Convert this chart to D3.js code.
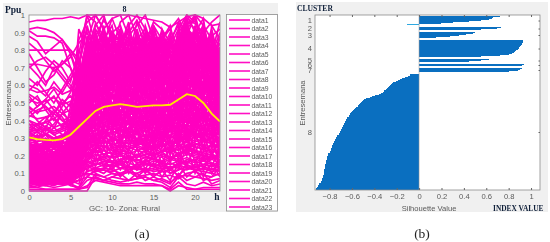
<!DOCTYPE html>
<html>
<head>
<meta charset="utf-8">
<script src="https://cdn.jsdelivr.net/npm/d3@7"></script>
<style>
html, body { margin: 0; padding: 0; background: #fff; }
svg { display: block; filter: blur(0.35px); }
text { font-family: "Liberation Sans", Arial, sans-serif; }
.note { font-family: "Liberation Serif", serif; font-weight: bold; fill: #10203a; }
</style>
</head>
<body>
<div id="chart"></div>
<script>
// panel (a): daily load curves in percent of Ppu, hours 0..23
const hours = d3.range(0, 24);
const loadCurves = [
  [96,97,97,98,98,99,98,100,100,100,100,100,100,99,98,97,96,93,96,99,100,98,94,95],
  [92,93,92,90,86,78,62,70,88,97,90,85,92,80,75,88,83,70,90,97,92,80,88,92],
  [91,88,88,87,84,70,55,85,100,92,98,86,90,97,88,92,80,62,85,98,95,90,96,100],
  [88,85,78,82,86,80,72,92,84,72,90,94,80,86,92,78,88,92,80,90,85,70,75,84],
  [84,80,74,68,72,78,66,76,95,88,74,82,96,70,84,90,72,84,96,86,78,92,80,68],
  [80,80,80,80,80,80,75,60,70,82,90,76,68,88,72,62,78,88,70,80,92,84,66,78],
  [78,70,62,66,74,70,60,82,72,90,78,64,84,74,94,80,66,74,90,82,70,60,74,88],
  [72,72,71,70,72,76,84,90,78,66,86,72,80,62,82,70,92,78,84,94,76,88,70,62],
  [71,66,60,70,64,58,72,64,86,76,60,90,70,82,66,84,74,60,76,70,88,78,92,72],
  [70,74,76,72,66,60,52,78,68,84,72,80,62,92,76,68,86,94,72,88,66,74,60,80],
  [64,60,68,74,70,62,80,70,62,78,88,66,76,70,86,60,72,82,92,76,84,68,80,56],
  [60,58,54,62,56,64,70,94,76,60,70,84,72,60,78,90,64,70,82,96,80,66,84,70],
  [57,62,56,50,58,66,74,60,82,92,66,76,86,68,62,74,84,66,78,72,90,82,64,76],
  [54,48,52,58,50,44,58,84,70,64,80,58,74,86,70,80,60,78,68,84,74,92,70,60],
  [50,54,46,40,48,56,68,74,90,72,62,92,66,78,60,72,88,62,74,90,70,60,76,84],
  [48,44,50,54,46,38,62,72,58,84,76,68,60,74,88,64,76,86,60,78,94,72,62,52],
  [46,40,36,44,52,48,64,86,74,66,58,78,88,64,72,84,58,70,86,64,76,88,68,74],
  [42,46,48,42,36,44,56,66,80,60,74,62,70,82,56,76,68,58,80,92,66,78,86,58],
  [38,34,40,46,42,34,50,78,62,88,68,56,82,58,76,62,80,90,68,74,60,84,72,66],
  [36,38,32,36,44,50,60,54,72,64,84,70,56,76,66,86,54,72,62,86,78,56,66,82],
  [34,30,36,32,28,38,48,70,86,56,66,86,62,52,80,58,70,80,56,68,88,74,58,48],
  [30,28,32,26,30,34,42,58,50,76,60,52,68,78,54,66,50,62,76,58,70,82,52,64],
  [28,32,26,30,24,28,54,48,66,54,72,64,50,60,70,48,74,56,64,84,54,62,74,46],
  [27,24,22,28,32,26,38,62,78,46,56,74,58,44,62,76,56,46,70,60,82,50,60,72],
  [26,22,28,24,20,30,46,52,44,68,48,58,72,64,46,56,68,74,52,66,46,70,48,56],
  [25,26,20,18,24,32,36,44,60,52,64,44,54,70,58,42,60,50,78,48,72,58,66,42],
  [24,20,24,28,22,18,30,56,38,58,42,66,46,52,68,52,40,64,44,72,56,44,54,68],
  [23,18,22,20,26,22,44,40,54,40,70,50,40,58,42,64,48,38,60,54,42,76,46,50],
  [22,24,18,22,16,24,34,50,64,48,36,56,64,38,50,36,62,52,42,80,50,38,58,44],
  [21,16,20,14,18,26,28,36,46,62,50,38,48,56,34,54,44,68,36,62,64,48,36,62],
  [20,22,16,18,20,14,32,46,34,44,54,42,34,46,60,40,32,48,58,40,52,66,42,34],
  [19,14,18,22,14,20,26,42,56,36,30,60,44,32,48,30,52,34,50,44,36,54,64,40],
  [18,20,14,12,18,16,24,32,42,50,40,32,52,40,30,46,36,56,32,56,46,34,48,30],
  [17,12,16,18,12,14,22,38,30,42,46,28,36,48,38,28,44,30,46,34,60,42,32,52],
  [16,18,12,14,16,10,18,28,48,32,26,44,30,36,26,42,26,42,28,50,32,48,38,26],
  [15,10,14,10,12,16,20,34,26,38,34,24,42,28,44,24,38,24,40,30,44,28,56,36],
  [14,16,10,12,8,12,16,24,36,28,44,36,26,34,22,34,28,36,24,46,28,36,26,44],
  [13,9,12,8,10,8,14,30,22,34,24,30,22,40,30,20,34,20,34,24,40,24,44,22],
  [12,14,8,10,6,10,12,20,32,24,30,20,34,24,20,32,22,30,18,38,22,32,20,30],
  [11,8,10,6,9,6,10,26,18,30,20,28,18,30,26,18,30,16,28,20,34,18,28,16],
  [10,12,6,8,5,8,8,18,28,20,26,16,24,18,16,26,16,24,14,32,16,26,14,24],
  [9,6,9,5,7,4,6,22,14,24,16,22,14,24,12,22,12,18,22,14,26,12,22,12],
  [8,10,5,6,4,6,4,16,24,14,20,12,20,12,18,14,20,10,12,26,10,20,10,18],
  [7,5,7,4,6,3,2,12,18,18,12,18,10,16,10,16,8,14,8,16,18,8,16,8],
  [6,4,4,4,4,4,2,8,12,10,14,8,14,8,12,8,12,6,16,8,12,6,8,14],
  [4,4,4,4,4,4,1,6,8,6,8,10,6,10,6,8,6,4,10,6,8,10,4,6],
  [1,1,1,1,1,1,1,2,10,8,6,5,6,7,8,6,5,2,8,4,3,5,3,4],
  [0,0,0,0,0,0,0,0,8,6,5,4,4,5,4,4,3,0,3,2,1,1,1,1],
  [2,2,1,1,1,1,1,3,6,5,4,3,3,3,3,3,3,1,5,1,1,2,2,2],
  [5,8,12,15,10,14,40,72,88,80,70,78,86,74,68,80,90,76,66,82,90,70,64,80],
  [12,8,6,10,14,20,58,80,66,72,82,60,72,84,78,66,74,86,94,70,62,80,88,54],
  [18,14,16,12,18,24,50,68,92,84,64,74,58,78,90,74,62,70,84,96,74,64,52,70],
  [22,26,20,16,12,18,62,88,72,58,78,88,76,56,72,86,70,54,74,88,68,86,76,60],
  [8,12,10,14,18,26,66,76,60,86,94,70,62,72,56,70,82,66,58,76,86,94,62,48],
  [16,10,14,18,22,16,46,64,82,70,52,82,92,66,74,52,76,88,72,60,80,72,90,64],
  [28,22,26,22,18,30,70,60,74,94,68,54,78,90,64,82,56,72,90,80,58,66,78,90],
  [10,16,18,16,12,10,52,74,56,66,86,76,50,62,84,72,64,50,68,92,98,76,56,74],
  [14,18,12,8,14,22,42,82,70,50,60,92,68,54,70,94,78,60,82,66,72,96,68,46],
  [20,14,10,12,16,12,60,56,84,78,72,48,84,76,52,60,86,76,52,84,62,54,82,78],
  [24,28,30,26,22,28,48,66,52,74,90,64,54,82,66,78,52,84,70,56,92,68,50,38],
  [6,10,8,12,8,14,38,52,76,62,46,70,80,50,88,56,66,42,88,74,54,86,72,58],
  [12,6,14,10,6,18,56,42,64,56,78,50,66,72,46,68,46,68,60,50,76,48,94,86],
  [32,26,24,30,26,22,36,60,44,70,58,82,44,60,56,44,58,40,48,98,66,52,42,66],
  [4,8,6,8,12,8,44,70,40,82,38,62,56,42,76,38,70,58,38,70,84,40,70,32],
  [18,22,16,14,10,20,30,48,58,40,66,40,74,46,36,70,42,60,54,42,58,90,34,76],
  [26,18,22,18,24,16,54,34,50,60,44,72,38,66,48,50,66,36,64,52,38,60,78,28],
  [10,14,10,6,8,12,26,40,68,34,56,34,60,32,64,32,54,46,30,66,48,34,50,54],
  [16,12,8,14,10,6,34,58,36,46,32,54,28,50,28,58,24,52,44,36,68,46,30,48],
  [30,34,28,24,30,36,22,44,28,54,36,46,42,26,40,26,40,28,56,28,42,30,40,20],
  [8,4,12,16,20,24,40,30,46,26,50,26,50,36,24,48,30,44,26,48,30,56,24,38],
  [20,16,24,20,14,28,18,54,24,36,28,38,32,44,34,22,48,22,36,22,50,22,36,10],
  [12,10,8,10,12,30,72,100,96,84,98,100,88,94,100,86,78,66,92,100,96,86,78,96],
  [18,14,10,8,12,40,86,96,100,92,80,96,100,88,84,96,92,84,76,94,100,94,86,70],
  [24,18,20,22,26,48,78,100,84,98,88,70,94,100,92,82,90,70,86,100,90,98,66,88],
  [6,8,10,14,16,36,92,80,94,100,84,92,76,96,82,94,86,92,98,88,100,82,90,62],
  // steadier customers, one level after another through the day
  [3,4,3,5,4,5,6,8,7,6,8,7,6,7,8,6,7,5,8,9,8,7,6,7],
  [6,5,7,6,5,7,8,10,9,8,10,9,11,8,9,10,8,9,7,10,11,9,8,10],
  [14,12,10,11,13,12,11,9,11,12,10,9,11,10,12,9,11,12,9,13,12,11,10,9],
  [22,20,21,18,19,17,14,12,11,13,12,10,12,13,11,12,13,10,12,14,12,13,11,12],
  [9,8,10,9,8,9,11,14,12,13,15,13,12,14,12,13,14,12,15,13,15,14,12,14],
  [27,25,26,24,22,20,17,15,13,15,14,16,14,13,15,14,16,13,15,17,14,15,16,13],
  [5,6,5,7,6,8,10,13,16,14,15,17,16,14,16,15,14,16,14,18,16,17,15,16],
  [18,16,17,15,16,14,13,17,15,17,16,15,17,18,15,17,16,15,17,19,17,15,18,16],
  [12,11,13,12,10,11,14,16,18,19,17,18,20,17,19,18,17,19,18,21,19,18,20,17],
  [30,28,29,27,26,25,22,20,18,20,19,21,18,20,19,21,20,18,21,22,20,19,18,21],
  [8,9,7,8,10,9,13,18,21,19,20,22,20,19,21,20,22,19,21,23,22,20,21,19],
  [16,17,15,17,15,16,19,21,23,21,22,24,21,23,22,20,23,22,24,26,23,22,24,21],
  [24,23,25,22,24,23,22,24,22,25,23,22,24,25,23,24,22,25,23,26,25,24,22,23],
  [4,5,4,5,6,7,12,20,25,23,24,26,25,23,25,24,26,23,25,28,25,24,26,24],
  [20,19,21,19,18,20,22,25,27,25,26,28,25,27,26,24,27,26,28,30,27,26,25,27],
  [11,12,10,12,13,11,17,24,26,28,27,25,28,26,28,27,25,28,27,31,28,29,27,25],
  [33,31,32,30,29,30,28,27,29,27,30,28,29,27,29,28,30,27,29,32,30,28,27,29],
  [7,8,6,7,8,9,16,26,30,28,29,31,30,28,30,29,28,31,29,33,31,30,28,30],
  [15,14,16,15,13,14,20,28,31,33,30,32,31,29,32,30,33,31,30,34,32,31,33,30],
  [26,24,25,27,25,24,27,30,33,31,34,32,30,33,31,33,32,34,31,36,33,32,30,33],
  [2,3,3,2,3,4,12,26,32,34,33,35,34,32,34,33,31,34,33,37,35,33,34,32],
  [19,18,19,17,19,21,25,31,35,33,36,34,33,35,34,36,33,35,34,38,35,36,33,35],
  [13,14,12,13,15,14,21,30,35,37,35,36,38,35,37,36,35,37,36,40,37,35,37,34],
  [29,30,28,29,27,28,30,34,38,36,39,37,35,38,36,38,37,35,38,41,38,37,39,36],
  [10,9,11,10,9,12,20,32,37,39,38,40,38,37,39,38,40,37,39,43,40,38,37,39],
  [23,22,24,21,23,25,29,36,41,39,41,40,42,39,41,40,39,41,40,44,42,40,41,38],
  [35,34,36,33,35,37,38,40,42,40,43,41,40,42,41,43,40,42,41,46,43,41,40,42],
  [17,16,18,16,15,17,24,35,41,43,42,44,42,41,43,42,44,41,43,47,44,42,43,40],
  [6,7,8,6,7,9,18,34,43,45,44,46,43,45,44,46,44,43,45,49,46,44,45,42],
  [28,27,25,26,28,27,32,40,46,44,47,45,44,46,45,47,44,46,45,50,47,45,43,46],
  [12,13,11,13,12,14,23,38,45,47,46,48,46,45,47,46,48,45,47,51,48,46,47,44],
  [38,37,39,36,38,40,41,44,49,47,50,48,47,49,48,50,47,49,48,53,50,48,46,49],
  [21,20,22,19,21,23,30,42,48,50,49,51,49,48,50,49,51,48,50,54,51,49,47,45],
  [9,10,8,10,9,11,22,40,49,51,50,52,51,49,51,50,49,52,50,55,52,50,48,46],
  [25,26,24,26,25,28,35,46,53,51,54,52,51,53,52,54,51,53,52,57,54,52,50,47],
  [43,41,42,44,40,42,44,48,54,52,55,53,52,54,53,55,52,54,53,58,55,53,51,49],
  [16,15,17,15,14,16,27,44,53,55,54,56,54,53,55,54,56,53,55,59,56,54,52,50],
  [31,30,32,29,31,33,38,48,57,55,58,56,55,57,56,58,55,57,56,61,58,56,53,51],
  [5,4,6,5,4,6,20,42,56,58,57,59,57,56,58,57,59,56,58,62,59,57,55,52],
  [47,45,46,48,44,46,48,52,59,57,60,58,57,59,58,60,57,59,58,63,60,58,56,53],
  [20,21,19,21,20,22,32,48,59,61,60,62,60,59,61,60,62,59,61,65,62,60,58,55],
  [34,33,35,32,34,36,42,52,62,60,63,61,60,62,61,63,60,62,61,67,63,61,59,56],
  [11,10,12,11,10,13,26,46,61,63,62,64,62,61,63,62,64,61,63,68,64,62,60,57],
  [52,50,51,53,49,51,52,56,65,63,66,64,63,65,64,66,63,65,64,69,66,64,62,59],
  [26,25,27,25,24,26,36,52,64,66,65,67,65,64,66,65,67,64,66,71,67,65,63,60],
  [15,14,16,14,16,18,30,50,65,67,66,68,67,65,67,66,68,65,67,72,68,66,64,61],
  [40,38,39,41,37,39,44,56,69,67,70,68,67,69,68,70,67,69,68,74,70,68,66,62],
  [8,7,9,8,7,10,24,50,68,70,69,71,69,68,70,69,71,68,70,75,71,69,67,63],
  [29,28,30,27,29,31,40,56,69,71,70,72,71,69,71,70,72,69,71,76,72,70,68,64],
  [58,56,57,59,55,57,58,62,73,71,74,72,71,73,72,74,71,73,72,78,74,72,70,66],
  [19,18,20,18,17,19,32,55,72,74,73,75,73,72,74,73,75,72,74,80,75,73,71,67],
  [13,12,14,12,14,16,30,54,73,75,74,76,75,73,75,74,76,73,75,81,76,74,72,68],
  [36,35,37,34,36,38,46,62,77,75,78,76,75,77,76,78,75,77,76,82,78,76,74,70],
  [23,22,24,22,21,23,36,58,76,78,77,79,77,76,78,77,79,76,78,84,79,77,75,71],
  [7,6,8,7,6,9,26,56,77,79,78,80,79,77,79,78,80,77,79,85,80,78,76,72],
  [32,31,33,30,32,34,44,62,81,79,82,80,79,81,80,82,79,81,80,87,82,80,78,74],
  [17,16,18,16,15,18,34,60,80,82,81,83,81,80,82,81,83,79,81,88,83,81,79,75],
  [10,11,9,11,10,13,30,60,81,83,82,84,83,81,83,82,80,82,81,89,84,82,80,76],
  [27,26,28,25,27,29,42,66,85,83,86,84,83,85,84,82,80,83,82,90,86,84,82,78],
  [21,20,22,20,19,21,36,64,84,86,85,87,85,84,86,85,83,81,84,91,87,85,83,79],
  [14,13,15,13,14,17,34,64,85,87,86,88,87,85,87,86,84,82,85,92,88,86,84,80],
  // low and middle levels, where the reference is nearly solid
  [4,6,5,4,6,5,8,11,13,12,11,13,14,12,13,11,12,14,13,12,14,12,13,11],
  [10,8,9,11,9,10,12,14,15,16,14,15,13,15,16,14,15,13,16,15,13,15,14,15],
  [7,5,6,8,7,6,10,15,17,18,16,17,19,16,17,18,16,18,17,16,18,17,19,18],
  [13,15,14,12,13,15,16,18,20,21,19,20,18,21,20,18,21,19,20,24,21,20,19,20],
  [19,17,18,20,18,17,18,20,22,23,21,23,22,20,23,21,22,24,21,24,23,21,22,24],
  [3,2,4,3,5,4,9,18,24,26,23,25,24,26,24,26,23,25,26,24,27,25,23,26],
  [10,11,9,8,10,9,15,23,27,29,26,28,27,29,27,25,29,27,29,28,26,28,30,27],
  [16,14,15,17,16,18,21,26,29,31,28,30,32,29,30,31,29,32,28,31,33,29,30,28],
  [21,23,22,20,22,21,24,29,32,30,33,35,31,33,31,32,34,30,33,35,31,33,32,34],
  [6,4,5,7,5,6,14,27,35,33,36,34,36,33,36,34,35,37,35,33,37,34,36,35],
  [25,24,22,24,26,22,27,33,37,39,36,38,40,37,38,40,37,39,36,40,38,36,39,37],
  [14,12,13,15,13,12,20,31,40,42,39,41,43,40,42,39,43,40,42,39,44,41,39,42],
  [55,52,48,44,50,54,48,58,46,52,45,50,48,44,52,46,50,44,50,58,46,52,44,48],
  [44,48,52,46,40,36,42,50,44,48,42,46,50,45,42,48,44,47,43,52,48,42,46,40],
  [40,36,34,38,44,40,38,46,40,44,48,42,38,44,47,41,38,45,40,46,43,39,42,36],
  [33,38,42,36,32,28,34,44,38,42,38,44,41,37,43,38,42,36,44,40,36,44,38,34]
];
const meanCurve = [30.5,29.5,29,28.8,29.5,32,36.5,41,45.5,47.8,48.7,49.3,48.7,47.8,48.2,48.7,48.7,49,52,55,54,50,44,39.5];
const legendLabels = ['data1','data2','data3','data4','data5','data6','data7','data8','data9','data10','data11','data12',
  'data13','data14','data15','data16','data17','data18','data19','data20','data21','data22','data23'];
const hourTicks = [0, 5, 10, 15, 20];
const ppuTicks = [0, 0.1, 0.2, 0.3, 0.4, 0.5, 0.6, 0.7, 0.8, 0.9, 1];

// panel (b): silhouette value of each sample, per cluster
const clusterLabels = ['1','2','3','4','5','6','7','8'];
const cluster1 = [.72,.66,.65,.62,.55,.45,.3,.2,-.11];
const cluster2 = [.73,.7,.55];
const cluster3 = [.5,.48,.42,.36,.28,.15];
const cluster4 = [.93,.93,.93,.92,.92,.91,.9,.89,.89,.88,.87,.86,.85,.83,.8,.72,.55];
const cluster5 = [.62,.55,.45];
const cluster6 = [.94,.92];
const cluster7 = [.92,.9,.88,.8];
const cluster8 = [-.08,-.08,-.1,-.13,-.15,-.17,-.19,-.21,-.23,-.24,
  -.25,-.26,-.27,-.28,-.29,-.3,-.31,-.31,-.32,-.34,
  -.36,-.39,-.42,-.44,-.47,-.49,-.5,-.51,-.52,-.53,
  -.54,-.55,-.55,-.56,-.57,-.58,-.59,-.6,-.61,-.62,
  -.62,-.63,-.63,-.64,-.64,-.65,-.65,-.66,-.66,-.67,
  -.67,-.68,-.68,-.69,-.69,-.7,-.7,-.71,-.71,-.72,
  -.72,-.73,-.73,-.74,-.74,-.75,-.75,-.76,-.76,-.77,
  -.77,-.78,-.78,-.78,-.79,-.79,-.79,-.8,-.8,-.81,
  -.81,-.81,-.82,-.82,-.82,-.82,-.83,-.83,-.83,-.83,
  -.84,-.84,-.84,-.84,-.84,-.85,-.85,-.85,-.85,-.85,
  -.85,-.86,-.86,-.86,-.87,-.87,-.87,-.88,-.88,-.89,
  -.89,-.9,-.9,-.91,-.92,-.92];
const silhouetteTicks = [-0.8, -0.6, -0.4, -0.2, 0, 0.2, 0.4, 0.6, 0.8, 1];

const width = 550;
const height = 242;
const greyText = '#5a5a5a';
const boxColor = '#8c8c8c';

const svg = d3.select('#chart').append('svg')
  .attr('width', width)
  .attr('height', height);

// grey figure backgrounds
svg.append('rect').attr('x', 3).attr('y', 3).attr('width', 275).attr('height', 209).attr('fill', '#f0f0f0');
svg.append('rect').attr('x', 296).attr('y', 2).attr('width', 252).attr('height', 210).attr('fill', '#f0f0f0');

function styleAxis(g) {
  g.selectAll('.domain').remove();
  g.selectAll('line').attr('stroke', '#666');
  g.selectAll('text').attr('fill', greyText).attr('font-size', 7.6);
}

// ---- panel a ----
const xA = d3.scaleLinear().domain([0, 23]).range([29, 220]);
const yA = d3.scaleLinear().domain([0, 1]).range([191, 15]);

svg.append('rect')
  .attr('x', xA(0)).attr('y', yA(1))
  .attr('width', xA(23) - xA(0)).attr('height', yA(0) - yA(1))
  .attr('fill', '#fff');

svg.append('clipPath').attr('id', 'clipA').append('rect')
  .attr('x', xA(0)).attr('y', yA(1) - 1)
  .attr('width', xA(23) - xA(0)).attr('height', yA(0) - yA(1) + 2);

const line = d3.line()
  .x((d, i) => xA(hours[i]))
  .y(d => yA(d / 100));

svg.append('g')
  .attr('clip-path', 'url(#clipA)')
  .attr('fill', 'none')
  .attr('stroke', '#ff00bf')
  .attr('stroke-width', 1.7)
  .selectAll('path')
  .data(loadCurves)
  .join('path')
  .attr('d', line);

svg.append('path')
  .datum(meanCurve)
  .attr('fill', 'none')
  .attr('stroke', '#ffe800')
  .attr('stroke-width', 1.8)
  .attr('d', line);

svg.append('rect')
  .attr('x', xA(0)).attr('y', yA(1))
  .attr('width', xA(23) - xA(0)).attr('height', yA(0) - yA(1))
  .attr('fill', 'none').attr('stroke', boxColor).attr('stroke-width', 0.8);

svg.append('g')
  .attr('transform', `translate(0,${yA(0)})`)
  .call(d3.axisBottom(xA).tickValues(hourTicks).tickSize(0).tickPadding(4))
  .call(styleAxis);

svg.append('g')
  .attr('transform', `translate(${xA(0)},0)`)
  .call(d3.axisLeft(yA).tickValues(ppuTicks).tickFormat(d3.format('~g')).tickSize(0).tickPadding(4))
  .call(styleAxis);

svg.append('text').attr('class', 'note').attr('x', 5).attr('y', 13).attr('font-size', 9.5).text('Ppu');
svg.append('text').attr('class', 'note').attr('x', 124.5).attr('y', 12).attr('font-size', 8).attr('text-anchor', 'middle').text('8');
svg.append('text').attr('class', 'note').attr('x', 217).attr('y', 200).attr('font-size', 9.5).attr('text-anchor', 'middle').text('h');
svg.append('text').attr('x', 124.5).attr('y', 211).attr('font-size', 7.9).attr('fill', greyText).attr('text-anchor', 'middle').text('GC: 10- Zona: Rural');
svg.append('text').attr('transform', 'translate(11,103) rotate(-90)').attr('font-size', 7.6).attr('fill', greyText).attr('text-anchor', 'middle').text('Entresemana');

// legend box
svg.append('rect')
  .attr('x', 226.5).attr('y', 14.5).attr('width', 51).attr('height', 196.5)
  .attr('fill', '#fff').attr('stroke', boxColor).attr('stroke-width', 0.8);

const legendY = d3.scalePoint().domain(legendLabels).range([20, 207]);
const legendRow = svg.append('g').selectAll('g')
  .data(legendLabels)
  .join('g')
  .attr('transform', d => `translate(0,${legendY(d)})`);
legendRow.append('line')
  .attr('x1', 229).attr('x2', 250)
  .attr('stroke', '#ff10c4').attr('stroke-width', 1.6);
legendRow.append('text')
  .attr('x', 251.5).attr('y', 2.5)
  .attr('font-size', 6.8).attr('fill', greyText)
  .text(d => d);

// ---- panel b ----
const clusters = [cluster1, cluster2, cluster3, cluster4, cluster5, cluster6, cluster7, cluster8];
const gapRows = 2;
let rowCount = 0;
const rows = [];
const clusterCenters = [];
clusters.forEach(values => {
  clusterCenters.push(rowCount + values.length / 2);
  values.forEach(v => rows.push({ row: rowCount++, value: v }));
  rowCount += gapRows;
});
rowCount -= gapRows;

const xB = d3.scaleLinear().domain([-0.93, 1.08]).range([315, 540]);
const yB = d3.scaleLinear().domain([0, rowCount]).range([16, 190]);

svg.append('rect')
  .attr('x', 315).attr('y', 15)
  .attr('width', 225).attr('height', 175)
  .attr('fill', '#fff');

svg.append('g')
  .attr('shape-rendering', 'crispEdges')
  .selectAll('rect')
  .data(rows)
  .join('rect')
  .attr('x', d => xB(Math.min(0, d.value)))
  .attr('width', d => Math.abs(xB(d.value) - xB(0)))
  .attr('y', d => yB(d.row))
  .attr('height', d => yB(d.row + 1) - yB(d.row))
  .attr('fill', d => (d.value < 0 && d.value > -0.12 && d.row < 10) ? '#2fa8e0' : '#0a6fc0');

svg.append('rect')
  .attr('x', 315).attr('y', 15)
  .attr('width', 225).attr('height', 175)
  .attr('fill', 'none').attr('stroke', boxColor).attr('stroke-width', 0.8);

svg.append('line')
  .attr('x1', xB(0)).attr('x2', xB(0)).attr('y1', 15).attr('y2', 190)
  .attr('stroke', '#9a9a9a').attr('stroke-width', 0.6);

svg.append('g')
  .attr('transform', 'translate(0,190)')
  .call(d3.axisBottom(xB).tickValues(silhouetteTicks).tickFormat(d3.format('~g')).tickSizeInner(-2).tickSizeOuter(0).tickPadding(4))
  .call(styleAxis);

svg.append('g')
  .attr('transform', 'translate(0,15)')
  .call(d3.axisTop(xB).tickValues(silhouetteTicks).tickSizeInner(-2).tickSizeOuter(0).tickFormat(''))
  .call(styleAxis);

const clusterScale = d3.scaleOrdinal(clusterLabels, clusterCenters.map(c => yB(c)));
svg.append('g')
  .attr('transform', 'translate(315,0)')
  .call(d3.axisLeft(clusterScale).tickSize(0).tickPadding(3))
  .call(styleAxis);

svg.append('g')
  .attr('transform', 'translate(540,0)')
  .call(d3.axisRight(clusterScale).tickSize(-1.5).tickFormat(''))
  .call(styleAxis);

svg.append('text').attr('class', 'note').attr('x', 297).attr('y', 11).attr('font-size', 7.6).text('CLUSTER');
svg.append('text').attr('class', 'note').attr('x', 493).attr('y', 211).attr('font-size', 7.4).text('INDEX VALUE');
svg.append('text').attr('x', 429).attr('y', 211).attr('font-size', 7.6).attr('fill', greyText).attr('text-anchor', 'middle').text('Silhouette Value');
svg.append('text').attr('transform', 'translate(305,103) rotate(-90)').attr('font-size', 7.6).attr('fill', greyText).attr('text-anchor', 'middle').text('Entresemana');

// sub-figure captions
svg.append('text').attr('x', 142).attr('y', 238).attr('font-size', 13.5).attr('text-anchor', 'middle').attr('fill', '#222').style('font-family', '"Liberation Serif", serif').text('(a)');
svg.append('text').attr('x', 422).attr('y', 238).attr('font-size', 13.5).attr('text-anchor', 'middle').attr('fill', '#222').style('font-family', '"Liberation Serif", serif').text('(b)');
</script>
</body>
</html>
